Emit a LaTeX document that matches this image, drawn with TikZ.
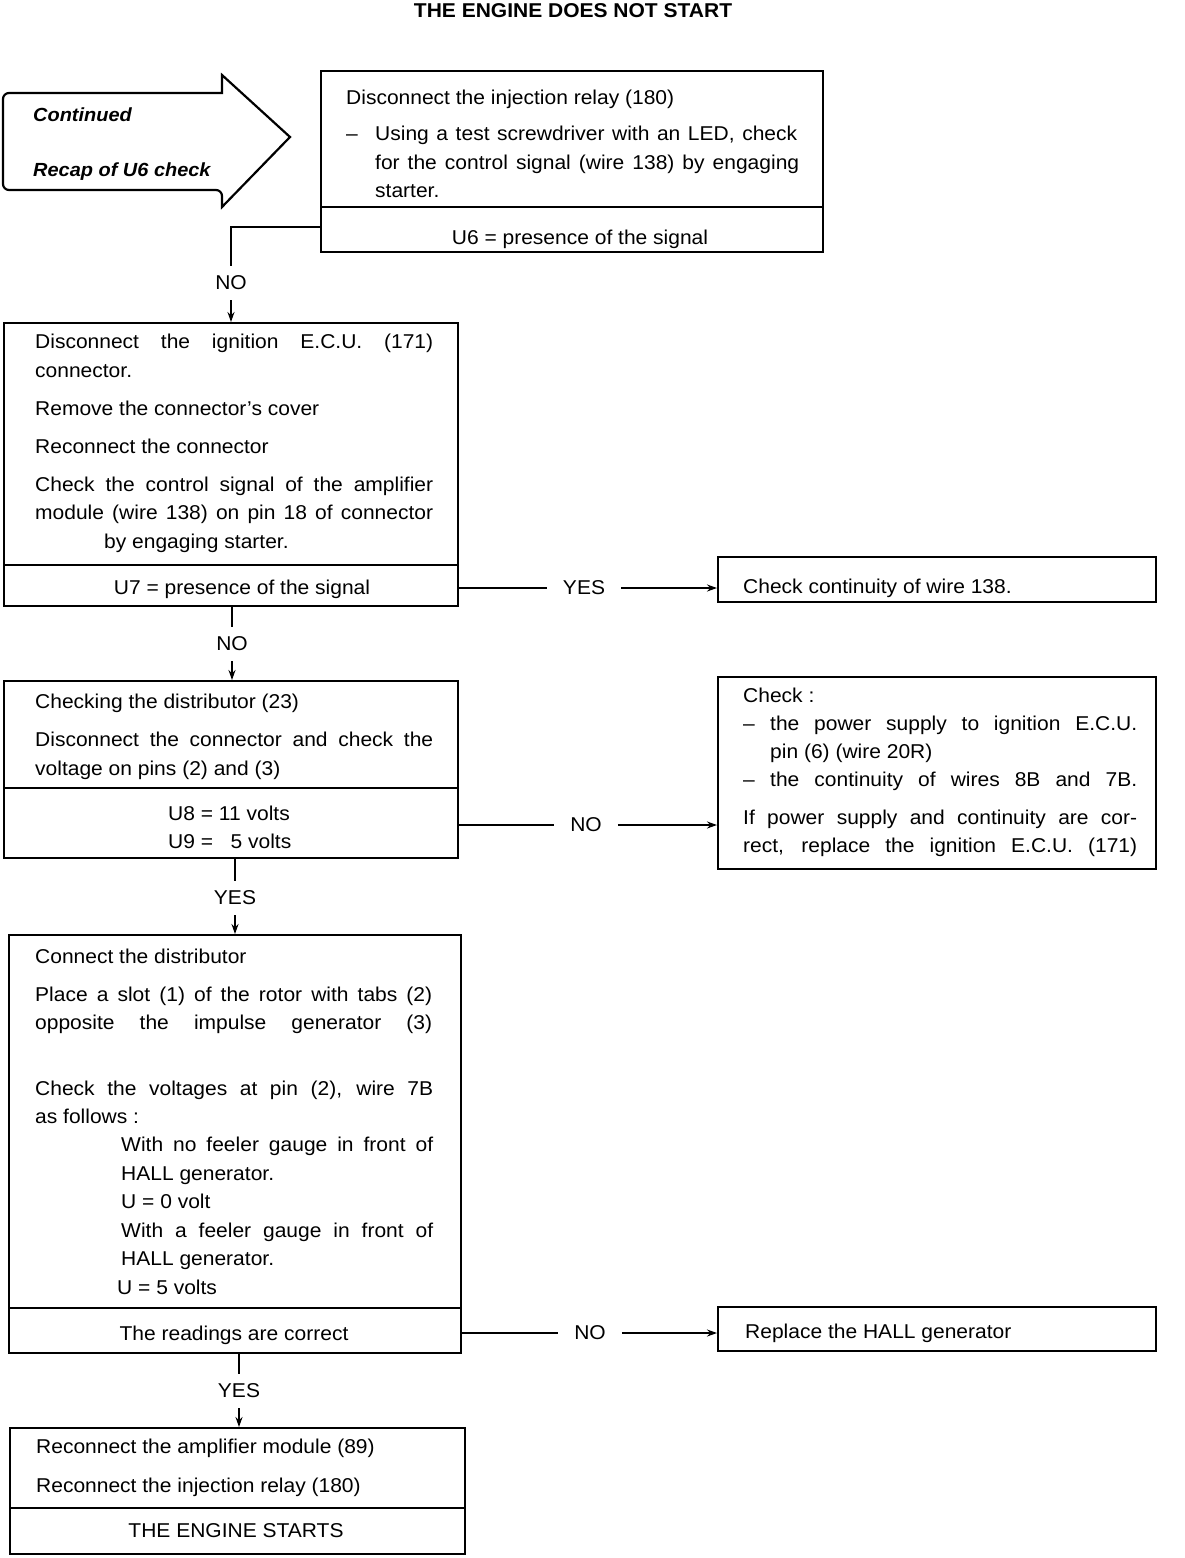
\documentclass[tikz,border=0pt]{standalone}
\usepackage{fontspec}
\setmainfont{Liberation Sans}[FakeStretch=1.05]
\usetikzlibrary{arrows.meta}
\newcommand{\jl}[2]{\makebox[#1pt][s]{#2}}
\begin{document}
\begin{tikzpicture}[x=1pt,y=-1pt,
  box/.style={draw,line width=2.2pt,inner sep=0pt,anchor=north west},
  txt/.style={anchor=base west,inner sep=0pt,font=\fontsize{20}{24}\selectfont},
  ctxt/.style={anchor=base,inner sep=0pt,font=\fontsize{20}{24}\selectfont},
  hlbl/.style={inner xsep=16pt,inner ysep=2pt,font=\fontsize{20}{24}\selectfont},
  vlbl/.style={inner xsep=2pt,inner ysep=10pt,font=\fontsize{20}{24}\selectfont},
  conn/.style={line width=2pt},
  arr/.style={line width=2pt,-{Stealth[length=10pt,width=7pt]}},
  divider/.style={line width=2.2pt}]
\useasboundingbox (0,0) rectangle (1184,1558);

% title
\node[ctxt,font=\fontsize{20}{24}\selectfont\bfseries] (title) at (573,17) {THE ENGINE DOES NOT START};

% big arrow
\draw[line width=2.2pt,line join=miter] (222,93) [rounded corners=6pt] -- (3,93) -- (3,190) -- (222,190) [sharp corners] -- (222,207) -- (290,137) -- (222,75) -- cycle;
\node[txt,font=\fontsize{19}{24}\selectfont\bfseries\itshape] (cont) at (33,121) {Continued};
\node[txt,font=\fontsize{19}{24}\selectfont\bfseries\itshape] (recap) at (33,176) {Recap of U6 check};

% box 1
\node[box,minimum width=502pt,minimum height=181pt] (b1) at (320,70) {};
\draw[divider] (320,207) -- (822,207);
\node[txt] (b1a) at (346,104) {Disconnect the injection relay (180)};
\node[txt] (b1d) at (346,140) {--};
\node[txt] (b1b) at (375,140) {\jl{422}{Using a test screwdriver with an LED, check}};
\node[txt] (b1c) at (375,169) {\jl{424}{for the control signal (wire 138) by engaging}};
\node[txt] (b1e) at (375,197) {starter.};
\node[ctxt] (b1u) at (580,244) {U6 = presence of the signal};

% box 2
\node[box,minimum width=454pt,minimum height=283pt] (b2) at (3,322) {};
\draw[divider] (3,565) -- (457,565);
\node[txt] (b2a) at (35,348) {\jl{398}{Disconnect the ignition E.C.U. (171)}};
\node[txt] (b2b) at (35,377) {connector.};
\node[txt] (b2c) at (35,415) {Remove the connector’s cover};
\node[txt] (b2d) at (35,453) {Reconnect the connector};
\node[txt] (b2e) at (35,491) {\jl{398}{Check the control signal of the amplifier}};
\node[txt] (b2f) at (35,519) {\jl{398}{module (wire 138) on pin 18 of connector}};
\node[txt] (b2g) at (104,548) {by engaging starter.};
\node[ctxt] (b2u) at (242,594) {U7 = presence of the signal};

% yes box
\node[box,minimum width=438pt,minimum height=45pt] (by1) at (717,556) {};
\node[txt] (by1a) at (743,593) {Check continuity of wire 138.};

% box 3
\node[box,minimum width=454pt,minimum height=177pt] (b3) at (3,680) {};
\draw[divider] (3,788) -- (457,788);
\node[txt] (b3a) at (35,708) {Checking the distributor (23)};
\node[txt] (b3b) at (35,746) {\jl{398}{Disconnect the connector and check the}};
\node[txt] (b3c) at (35,775) {voltage on pins (2) and (3)};
\node[txt] (b3u) at (168,820) {U8 = 11 volts};
\node[txt] (b3v) at (168,848) {U9 = \phantom{1}5 volts};

% check box
\node[box,minimum width=438pt,minimum height=192pt] (bc) at (717,676) {};
\node[txt] (bca) at (743,702) {Check :};
\node[txt] (bcd1) at (743,730) {--};
\node[txt] (bcb) at (770,730) {\jl{367}{the power supply to ignition E.C.U.}};
\node[txt] (bcc) at (770,758) {pin (6) (wire 20R)};
\node[txt] (bcd2) at (743,786) {--};
\node[txt] (bce) at (770,786) {\jl{367}{the continuity of wires 8B and 7B.}};
\node[txt] (bcf) at (743,824) {\jl{394}{If power supply and continuity are cor-}};
\node[txt] (bcg) at (743,852) {\jl{394}{rect, replace the ignition E.C.U. (171)}};

% box 4
\node[box,minimum width=452pt,minimum height=418pt] (b4) at (8,934) {};
\draw[divider] (8,1308) -- (460,1308);
\node[txt] (b4a) at (35,963) {Connect the distributor};
\node[txt] (b4b) at (35,1001) {\jl{397}{Place a slot (1) of the rotor with tabs (2)}};
\node[txt] (b4c) at (35,1029) {\jl{397}{opposite the impulse generator (3)}};
\node[txt] (b4d) at (35,1095) {\jl{398}{Check the voltages at pin (2), wire 7B}};
\node[txt] (b4e) at (35,1123) {as follows :};
\node[txt] (b4f) at (121,1151) {\jl{312}{With no feeler gauge in front of}};
\node[txt] (b4g) at (121,1180) {HALL generator.};
\node[txt] (b4h) at (121,1208) {U = 0 volt};
\node[txt] (b4i) at (121,1237) {\jl{312}{With a feeler gauge in front of}};
\node[txt] (b4j) at (121,1265) {HALL generator.};
\node[txt] (b4k) at (117,1294) {U = 5 volts};
\node[ctxt] (b4u) at (234,1340) {The readings are correct};

% hall box
\node[box,minimum width=438pt,minimum height=44pt] (bh) at (717,1306) {};
\node[txt] (bha) at (745,1338) {Replace the HALL generator};

% box 5
\node[box,minimum width=455pt,minimum height=126pt] (b5) at (9,1427) {};
\draw[divider] (9,1508) -- (464,1508);
\node[txt] (b5a) at (36,1453) {Reconnect the amplifier module (89)};
\node[txt] (b5b) at (36,1492) {Reconnect the injection relay (180)};
\node[ctxt] (b5u) at (236,1537) {THE ENGINE STARTS};

% connectors
\node[vlbl] (n1) at (231,283) {NO};
\coordinate (c1) at (320,227);
\draw[conn] (c1) -| (n1.north);
\draw[arr] (n1.south) -- (n1.south |- b2.north);

\node[hlbl] (y1) at (584,588) {YES};
\draw[conn] (b2.east |- y1) -- (y1.west);
\draw[arr] (y1.east) -- (by1.west |- y1);

\node[vlbl] (n2) at (232,644) {NO};
\draw[conn] (b2.south -| n2) -- (n2.north);
\draw[arr] (n2.south) -- (n2.south |- b3.north);

\node[hlbl] (n3) at (586,825) {NO};
\draw[conn] (b3.east |- n3) -- (n3.west);
\draw[arr] (n3.east) -- (bc.west |- n3);

\node[vlbl] (y2) at (235,898) {YES};
\draw[conn] (b3.south -| y2) -- (y2.north);
\draw[arr] (y2.south) -- (y2.south |- b4.north);

\node[hlbl] (n4) at (590,1333) {NO};
\draw[conn] (b4.east |- n4) -- (n4.west);
\draw[arr] (n4.east) -- (bh.west |- n4);

\node[vlbl] (y3) at (239,1391) {YES};
\draw[conn] (b4.south -| y3) -- (y3.north);
\draw[arr] (y3.south) -- (y3.south |- b5.north);
\end{tikzpicture}
\end{document}
